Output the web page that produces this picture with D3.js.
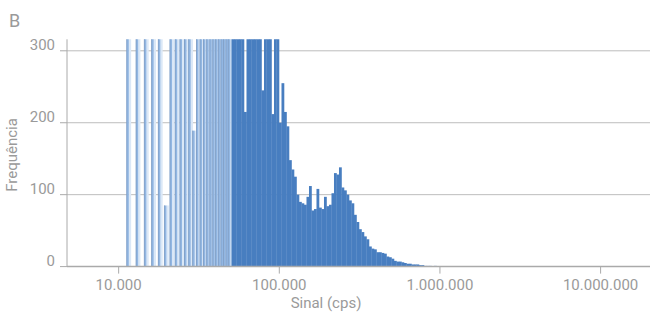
<!DOCTYPE html>
<html><head><meta charset="utf-8">
<script src="https://cdn.jsdelivr.net/npm/d3@7"></script>
<style>body{margin:0;background:#fff;} svg{display:block;font-family:Roboto,sans-serif;}</style>
</head><body><svg id="c" width="650" height="314"></svg>
<script>
// Sparse low-signal bins (discrete counts)
const sparseCps = [11375,13000,14625,16250,17875,19500,21125,22750,24375,26000,27625,29250,
  30875,32500,34125,35750,37375,39000,40625,42250,43875,45500,47125,48750];
const sparseFreq = [330,330,330,330,330,85,330,330,330,330,330,189,
  330,330,330,330,330,330,330,330,330,330,330,330];

// Dense bins: left edges (cps)
const denseCps = [50400,52240,54150,56120,58170,60290,62490,64770,67130,69580,72120,74750,
  77470,80300,83230,86260,89410,92670,96050,99570,103200,106970,110870,114910,119100,123450,
  127950,132620,137450,142470,147660,153050,158630,164420,170410,176630,183070,189750,196670,
  203840,211280,218980,226970,235250,243830,252720,261940,271490,281390,291660,302290,313320,
  324750,336590,348870,361590,374780,388450,402620,417310,432530,448300,464660,481610,499170,
  517380,536250,555810,576080,597090,618870,641440,664840,689090,714220,740440,767450,795440,
  824460,854530,885700,918010,951490,986330];
const denseEnd = 1022300;
const denseFreq = [330,330,330,330,330,215,330,330,330,330,330,330,
  245,330,330,330,212,330,330,200,255,215,195,148,135,125,
  100,90,88,86,97,112,78,80,108,82,80,97,84,
  86,102,130,128,138,110,106,100,92,88,72,62,52,
  48,42,38,28,25,24,20,20,19,18,14,13,11,
  8,7,7,6,5,4,4,3,3,3,2,2,1,
  1,1,0,1,0,0];

const xTicks = [1e4,1e5,1e6,1e7];
const xTickLabels = ["10.000","100.000","1.000.000","10.000.000"];
const yTicks = [0,100,200,300];

const svg = d3.select("#c");
const L = 67, R = 650, T = 39.3, B = 266.6;
const x = d3.scaleLog().domain([4770, 2.03e7]).range([L, R]);
const y = d3.scaleLinear().domain([0, 316]).range([B, T]);
const textCol = "#9a9a9a";

svg.append("defs").append("clipPath").attr("id","clip")
  .append("rect").attr("x",L).attr("y",T).attr("width",R-L).attr("height",B-T);

// gridlines
svg.append("g").selectAll("line").data(yTicks.filter(d=>d>0)).join("line")
  .attr("x1",L).attr("x2",R).attr("y1",d=>y(d)).attr("y2",d=>y(d))
  .attr("stroke","#bdbdbd").attr("stroke-width",1);

const plot = svg.append("g").attr("clip-path","url(#clip)");

// sparse bars
const sp = sparseCps.map((c,i)=>({c, f: sparseFreq[i]}));
plot.append("g").selectAll("rect").data(sp).join("rect")
  .attr("x",d=>x(d.c)+1).attr("width",2.5)
  .attr("y",d=>y(d.f)).attr("height",d=>B-y(d.f))
  .attr("fill","#dbe8f7");
plot.append("g").selectAll("rect").data(sp).join("rect")
  .attr("x",d=>x(d.c)-1).attr("width",2.2)
  .attr("y",d=>y(d.f)).attr("height",d=>B-y(d.f))
  .attr("fill","#92b7e3");
plot.append("g").selectAll("rect").data(sp).join("rect")
  .attr("x",d=>x(d.c)-1.3).attr("width",0.9)
  .attr("y",d=>y(d.f)).attr("height",d=>B-y(d.f))
  .attr("fill","#7f9ec6");

// dense bars
const dn = denseCps.map((c,i)=>({c, c2: i<denseCps.length-1?denseCps[i+1]:denseEnd, f: denseFreq[i]}));
plot.append("g").selectAll("rect").data(dn).join("rect")
  .attr("x",d=>x(d.c)).attr("width",d=>x(d.c2)-x(d.c)+0.3)
  .attr("y",d=>y(d.f)).attr("height",d=>B-y(d.f))
  .attr("fill","#487ec0");

// axes lines
svg.append("line").attr("x1",L).attr("x2",L).attr("y1",T).attr("y2",B)
  .attr("stroke","#aaaaaa").attr("stroke-width",1);
svg.append("line").attr("x1",L).attr("x2",R).attr("y1",B).attr("y2",B)
  .attr("stroke","#aaaaaa").attr("stroke-width",1.5);

// y ticks
const yg = svg.append("g");
yg.selectAll("line").data(yTicks).join("line")
  .attr("x1",L-7).attr("x2",L).attr("y1",d=>y(d)).attr("y2",d=>y(d))
  .attr("stroke","#aaaaaa");
yg.selectAll("text").data(yTicks).join("text")
  .attr("x",55).attr("y",d=>y(d)-1).attr("text-anchor","end")
  .attr("fill",textCol).attr("font-size",15).text(d=>d);

// x ticks
const xg = svg.append("g");
xg.selectAll("line").data(xTicks).join("line")
  .attr("x1",d=>x(d)).attr("x2",d=>x(d)).attr("y1",B).attr("y2",B+7)
  .attr("stroke","#aaaaaa");
xg.selectAll("text").data(xTicks).join("text")
  .attr("x",d=>x(d)).attr("y",290).attr("text-anchor","middle")
  .attr("fill",textCol).attr("font-size",15).text((d,i)=>xTickLabels[i]);

svg.append("text").attr("x",326).attr("y",308).attr("text-anchor","middle")
  .attr("fill",textCol).attr("font-size",15).text("Sinal (cps)");
svg.append("text").attr("transform","translate(17,155) rotate(-90)").attr("text-anchor","middle")
  .attr("fill",textCol).attr("font-size",15).text("Frequência");
svg.append("text").attr("x",9).attr("y",27).attr("fill",textCol).attr("font-size",18).text("B");
</script></body></html>
